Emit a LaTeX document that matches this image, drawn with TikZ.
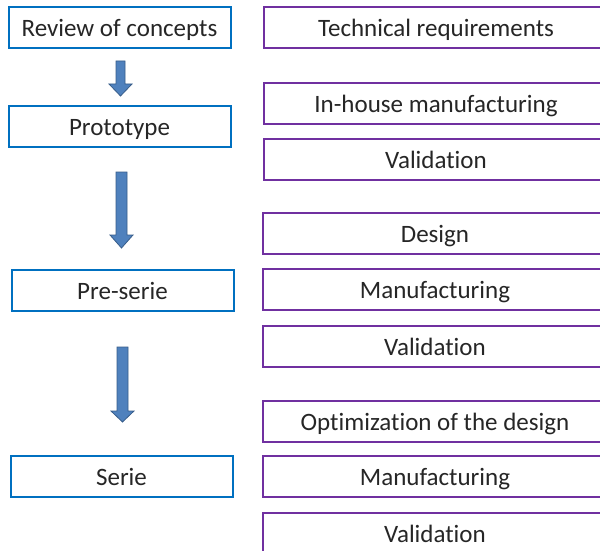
\documentclass[tikz,border=0pt]{standalone}
\usepackage{fontspec}
\setmainfont[Ligatures={NoCommon}]{Carlito}
\definecolor{bluebox}{RGB}{0,112,192}
\definecolor{purplebox}{RGB}{112,48,160}
\definecolor{arrowfill}{RGB}{79,129,189}
\definecolor{arrowline}{RGB}{56,93,138}
\newcommand{\blockarrow}[6]{%
  % cx, top, shaft half, head start, head half, tip
  \filldraw[arrowstyle] (#1-#3,-#2) -- (#1+#3,-#2) -- (#1+#3,-#4) -- (#1+#5,-#4)
    -- (#1,-#6) -- (#1-#5,-#4) -- (#1-#3,-#4) -- cycle;}
\tikzset{
  boxtext/.style={inner sep=0pt, font=\fontsize{25}{28}\selectfont, text=black!85,
    text height=20pt, text depth=2pt, minimum height=41pt, fill=white, line width=2pt},
  stagebox/.style={boxtext, draw=bluebox, minimum width=222pt},
  taskbox/.style={boxtext, draw=purplebox, minimum width=344pt},
  arrowstyle/.style={fill=arrowfill, draw=arrowline, line width=0.8pt}
}
\begin{document}
\begin{tikzpicture}[x=1pt,y=1pt]
\useasboundingbox (0,0) rectangle (600,-551);
\clip (0,0) rectangle (600,-551);
\fill[white] (0,0) rectangle (600,-551);
% left stages
\node[stagebox] (rev) at (119.5,-27.5) {Review of concepts};
\node[stagebox] (proto) at (119.5,-126.5) {Prototype};
\node[stagebox] (pre) at (122.5,-290) {Pre-serie};
\node[stagebox] (serie) at (121.5,-476) {Serie};
% right tasks
\node[taskbox] (tech) at (436,-27.5) {Technical requirements};
\node[taskbox] (inhouse) at (436,-103.5) {In-house manufacturing};
\node[taskbox] (val1) at (436,-159.5) {Validation};
\node[taskbox] (design) at (435,-233.5) {Design};
\node[taskbox] (manu1) at (435,-289.5) {Manufacturing};
\node[taskbox] (val2) at (435,-346.5) {Validation};
\node[taskbox] (opt) at (435,-421) {Optimization of the design};
\node[taskbox] (manu2) at (435,-476.5) {Manufacturing};
\node[taskbox] (val3) at (435,-533.5) {Validation};
% block arrows
\blockarrow{120.5}{61}{4.5}{84}{11.5}{96}
\blockarrow{121.5}{172}{5.5}{235}{11.5}{248}
\blockarrow{122.5}{347}{5.5}{411}{11.5}{422}
\end{tikzpicture}
\end{document}
